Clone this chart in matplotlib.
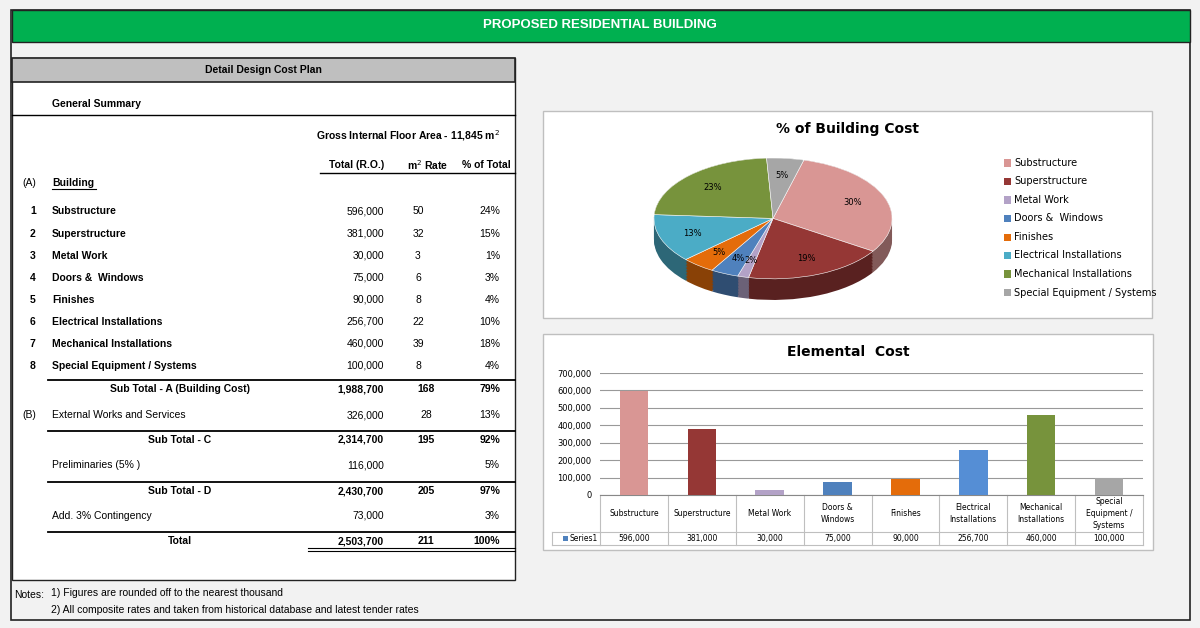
import numpy as np
import matplotlib.pyplot as plt
from matplotlib.patches import Rectangle
from matplotlib.colors import to_rgb
import matplotlib.transforms as mtrans

W, H = 1200, 628
fig = plt.figure(figsize=(12, 6.28), dpi=100)
fig.patch.set_facecolor('#f2f2f2')

def fx(x):
    return x / W

def fy(y):
    return 1 - y / H

def txt(x, y, s, **kw):
    kw.setdefault('fontsize', 7.5)
    kw.setdefault('va', 'center')
    fig.text(fx(x), fy(y), s, family='Liberation Sans', **kw)

def hline(x0, x1, y, lw=1.0, c='black'):
    fig.add_artist(plt.Line2D([fx(x0), fx(x1)], [fy(y), fy(y)], color=c, lw=lw))

def box(x0, y0, x1, y1, fc, ec='none', lw=1.0, z=0):
    fig.add_artist(Rectangle((fx(x0), fy(y1)), fx(x1 - x0), (y1 - y0) / H,
                             facecolor=fc, edgecolor=ec, lw=lw, zorder=z))

# frame and header
box(11, 10, 1190, 620, 'none', ec='#222222', lw=1.2)
box(12, 10, 1190, 42, '#00b050', ec='#222222', lw=1)
txt(600, 25, 'PROPOSED RESIDENTIAL BUILDING', color='white', fontsize=9.5,
    weight='bold', ha='center')

# left panel
box(12, 58, 515, 580, 'white', ec='#222222', lw=1)
box(12, 58, 515, 82, '#bfbfbf', ec='#222222', lw=1.2)
txt(263, 70, 'Detail Design Cost Plan', weight='bold', ha='center')
txt(52, 104, 'General Summary', weight='bold')
hline(12, 515, 115)
txt(500, 136, 'Gross Internal Floor Area - 11,845 m$^2$', weight='bold', ha='right')
txt(384, 165, 'Total (R.O.)', weight='bold', ha='right')
txt(428, 165, 'm$^2$ Rate', weight='bold', ha='center')
txt(511, 165, '% of Total', weight='bold', ha='right')
hline(320, 515, 173)
txt(22, 183, '(A)')
txt(52, 183, 'Building', weight='bold')
hline(52, 96, 189, lw=0.8)

items = ['Substructure', 'Superstructure', 'Metal Work', 'Doors &  Windows', 'Finishes',
         'Electrical Installations', 'Mechanical Installations', 'Special Equipment / Systems']
totals = [596000, 381000, 30000, 75000, 90000, 256700, 460000, 100000]
rates = [50, 32, 3, 6, 8, 22, 39, 8]
pcts = [24, 15, 1, 3, 4, 10, 18, 4]
row_y = [211, 234, 256, 278, 300, 322, 344, 366]
for i, name in enumerate(items):
    y = row_y[i]
    txt(30, y, str(i + 1), weight='bold')
    txt(52, y, name, weight='bold')
    txt(384, y, f'{totals[i]:,}', ha='right')
    txt(418, y, str(rates[i]), ha='center')
    txt(500, y, f'{pcts[i]}%', ha='right')

summary = [
    (389, 'Sub Total - A (Building Cost)', '1,988,700', '168', '79%', True, 180),
    (415, 'External Works and Services', '326,000', '28', '13%', False, 52),
    (440, 'Sub Total - C', '2,314,700', '195', '92%', True, 180),
    (465, 'Preliminaries (5% )', '116,000', '', '5%', False, 52),
    (491, 'Sub Total - D', '2,430,700', '205', '97%', True, 180),
    (516, 'Add. 3% Contingency', '73,000', '', '3%', False, 52),
    (541, 'Total', '2,503,700', '211', '100%', True, 180),
]
for y, lab, tot, rate, pct, bold, lx in summary:
    w = 'bold' if bold else 'normal'
    txt(lx, y, lab, weight=w, ha='center' if lx == 180 else 'left')
    txt(384, y, tot, weight=w, ha='right')
    txt(426, y, rate, weight=w, ha='center')
    txt(500, y, pct, weight=w, ha='right')
txt(22, 415, '(B)')
for y in [380, 431, 482, 532]:
    hline(48, 515, y, lw=1.3)
hline(308, 515, 548, lw=0.8)
hline(308, 515, 551, lw=0.8)
txt(14, 595, 'Notes:')
txt(51, 593, '1) Figures are rounded off to the nearest thousand')
txt(51, 610, '2) All composite rates and taken from historical database and latest tender rates')

# colours
pie_cols = ['#d99694', '#953735', '#b3a2c7', '#4f81bd', '#e46c0a', '#4bacc6', '#77933c', '#a6a6a6']
bar_cols = ['#d99694', '#953735', '#b3a2c7', '#4f81bd', '#e46c0a', '#558ed5', '#77933c', '#a6a6a6']

# pie panel
box(543, 111, 1152, 318, 'white', ec='#bfbfbf', lw=1)
fig.text(fx(848), fy(129), '% of Building Cost', ha='center', va='center',
         fontsize=10, weight='bold', family='DejaVu Sans')
pax = fig.add_axes([fx(648), fy(306), fx(250), (306 - 155) / H])
pax.axis('off')
share = np.array(totals) / sum(totals)
side = [tuple(np.array(to_rgb(c)) * 0.6) for c in pie_cols]
for off in np.linspace(-0.35, 0, 15):
    pax.pie(share, colors=side, startangle=75, counterclock=False, center=(0, off),
            wedgeprops=dict(linewidth=0))
pax.pie(share, colors=pie_cols, startangle=75, counterclock=False,
        autopct=lambda p: f'{p:.0f}%', pctdistance=0.72,
        textprops=dict(fontsize=6), wedgeprops=dict(linewidth=0.4, edgecolor='white'))
pax.set_aspect('auto')
pax.set_xlim(-1.05, 1.05)
pax.set_ylim(-1.45, 1.05)
for i, name in enumerate(items):
    y = 163 + i * 18.5
    box(1004, y - 3.5, 1011, y + 3.5, pie_cols[i])
    fig.text(fx(1014), fy(y), name, va='center', fontsize=7, family='DejaVu Sans')

# bar panel
box(543, 334, 1153, 550, 'white', ec='#bfbfbf', lw=1)
fig.text(fx(848), fy(352), 'Elemental  Cost', ha='center', va='center',
         fontsize=10, weight='bold', family='DejaVu Sans')
bax = fig.add_axes([fx(600), fy(495), fx(543), (495 - 373) / H])
x = np.arange(len(items))
bax.bar(x, totals, width=0.42, color=bar_cols, zorder=3)
bax.set_ylim(0, 700000)
bax.set_xlim(-0.5, 7.5)
bax.set_yticks(np.arange(0, 700001, 100000))
bax.set_yticklabels([f'{v:,}' for v in range(0, 700001, 100000)], fontsize=6)
bax.grid(axis='y', color='#999999', lw=0.8, zorder=0)
bax.set_xticks([])
bax.tick_params(axis='y', length=0, pad=6)
for s in ['top', 'right', 'left']:
    bax.spines[s].set_visible(False)
bax.spines['bottom'].set_color('#888888')

tr = mtrans.blended_transform_factory(bax.transData, bax.transAxes)
bot1 = -(532 - 495) / 122
bot2 = -(545 - 495) / 122
names2 = ['Substructure', 'Superstructure', 'Metal Work', 'Doors &\nWindows', 'Finishes',
          'Electrical\nInstallations', 'Mechanical\nInstallations', 'Special\nEquipment /\nSystems']
for b in list(x - 0.5) + [7.5]:
    bax.plot([b, b], [0, bot2], color='#bfbfbf', lw=0.8, transform=tr, clip_on=False)
bax.plot([-0.5, 7.5], [bot1, bot1], color='#bfbfbf', lw=0.8, transform=tr, clip_on=False)
bax.plot([-0.5, 7.5], [bot2, bot2], color='#bfbfbf', lw=0.8, transform=tr, clip_on=False)
bax.plot([-1.2, -0.5], [bot1, bot1], color='#bfbfbf', lw=0.8, transform=tr, clip_on=False)
bax.plot([-1.2, -0.5], [bot2, bot2], color='#bfbfbf', lw=0.8, transform=tr, clip_on=False)
bax.plot([-1.2, -1.2], [bot1, bot2], color='#bfbfbf', lw=0.8, transform=tr, clip_on=False)
for i in x:
    bax.text(i, bot1 / 2, names2[i], transform=tr, ha='center', va='center', fontsize=5.5,
             linespacing=1.5, clip_on=False)
    bax.text(i, (bot1 + bot2) / 2, f'{totals[i]:,}', transform=tr, ha='center',
             va='center', fontsize=5.5, clip_on=False)
box(563, 536, 568, 541, '#4f81bd')
fig.text(fx(570), fy(538.5), 'Series1', va='center', fontsize=5.5)

fig.savefig('out.png', dpi=100, facecolor=fig.get_facecolor())
